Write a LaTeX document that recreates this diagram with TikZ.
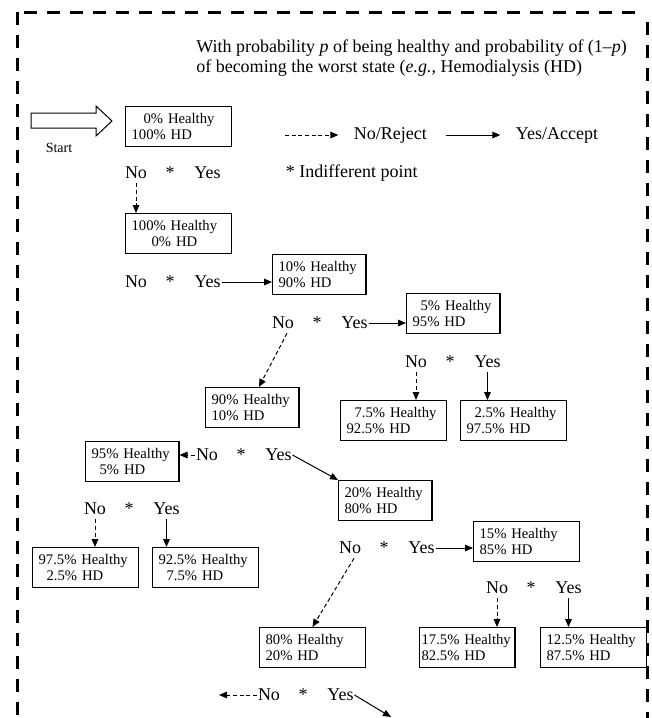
\documentclass[tikz,border=0pt]{standalone}
\usepackage{fontspec}
\setmainfont{Liberation Serif}
\usetikzlibrary{arrows.meta, positioning}
\newcommand{\rowfont}{\fontsize{13.5}{15}\selectfont}
\newcommand{\boxfont}{\fontsize{11}{12}\selectfont}
\tikzset{
  statebox/.style={rectangle, draw, line width=0.9pt, anchor=north west, align=left,
                   inner xsep=4.5pt, inner ysep=0pt, minimum height=30pt, font=\boxfont},
  wbox/.style={statebox, text width=70.3pt},
  nbox/.style={statebox, text width=61pt},
  ans/.style={inner xsep=0.5pt, inner ysep=3pt, font=\rowfont},
  yesarrow/.style={-{Triangle[length=6pt, width=5pt]}, line width=0.75pt},
  noarrow/.style={-{Triangle[length=6pt, width=5pt]}, line width=0.75pt, dash pattern=on 3pt off 2pt},
  frame/.style={line width=2.25pt, dash pattern=on 9.75pt off 7.5pt},
}
\begin{document}
\begin{tikzpicture}[x=0.75pt, y=-0.75pt]
  \useasboundingbox (0,0) rectangle (652,718);

  % dashed frame, open at the bottom
  \draw[frame] (17,12) -- (17,718);
  \draw[frame] (24,12) -- (641,12);
  \draw[frame] (647,22) -- (647,718);

  \node[font=\rowfont, align=left, anchor=north west, inner sep=0pt] (head) at (196,40)
    {With probability \textit{p} of being healthy and probability of (1–\textit{p})\\
     of becoming the worst state (\textit{e.g.}, Hemodialysis (HD)};

  % start arrow
  \draw[line width=0.75pt] (31,113) -- (96,113) -- (96,106) -- (112,121) -- (96,136)
    -- (96,128) -- (31,128) -- cycle;
  \node[font=\fontsize{10.5}{12}\selectfont] (start) at (59,148) {Start};

  % legend
  \coordinate (lgno) at (285,135);
  \node[ans, anchor=west] (legno) at (353,135) {No/Reject};
  \coordinate (lgyes) at (446,135);
  \node[ans, anchor=west] (legyes) at (515,135) {Yes/Accept};
  \draw[noarrow, shorten >=11pt] (lgno) -- (legno);
  \draw[yesarrow, shorten >=11pt] (lgyes) -- (legyes);
  \node[ans, anchor=west] (indiff) at (285,173) {* Indifferent point};

  % states
  \node[wbox] (b1) at (125,106) {\hspace*{9pt}0\% Healthy\\100\% HD};
  \node[wbox] (b2) at (125,213) {100\% Healthy\\\hspace*{15pt}0\% HD};
  \node[nbox] (b3) at (272,254) {10\% Healthy\\90\% HD};
  \node[nbox] (b4) at (406,293) {\hspace*{6pt}5\% Healthy\\95\% HD};
  \node[nbox] (b5) at (205,387) {90\% Healthy\\10\% HD};
  \node[wbox] (b6) at (340,400) {\hspace*{6pt}7.5\% Healthy\\92.5\% HD};
  \node[wbox] (b7) at (460,400) {\hspace*{6pt}2.5\% Healthy\\97.5\% HD};
  \node[nbox] (b8) at (85,441) {95\% Healthy\\\hspace*{6pt}5\% HD};
  \node[nbox] (b9) at (338,480) {20\% Healthy\\80\% HD};
  \node[wbox] (b10) at (32,547) {97.5\% Healthy\\\hspace*{6pt}2.5\% HD};
  \node[wbox] (b11) at (152,547) {92.5\% Healthy\\\hspace*{6pt}7.5\% HD};
  \node[wbox] (b12) at (473,521) {15\% Healthy\\85\% HD};
  \node[wbox] (b13) at (259,627) {80\% Healthy\\20\% HD};
  \node[statebox, text width=68.5pt, inner xsep=1.5pt] (b14) at (419,627) {17.5\% Healthy\\82.5\% HD};
  \node[wbox] (b15) at (540,627) {12.5\% Healthy\\87.5\% HD};

  % answers
  \node[ans] (no1) at (136,173) {No};
  \node[ans, base right=12.5pt of no1] (st1) {*};
  \node[ans, base right=13.5pt of st1] (yes1) {Yes};

  \node[ans] (no2) at (136,282) {No};
  \node[ans, base right=12.5pt of no2] (st2) {*};
  \node[ans, base right=13.5pt of st2] (yes2) {Yes};

  \node[ans] (no3) at (283,323) {No};
  \node[ans, base right=12.5pt of no3] (st3) {*};
  \node[ans, base right=13.5pt of st3] (yes3) {Yes};

  \node[ans] (no4) at (416,362) {No};
  \node[ans, base right=12.5pt of no4] (st4) {*};
  \node[ans, base right=13.5pt of st4] (yes4) {Yes};

  \node[ans] (no5) at (207,455) {No};
  \node[ans, base right=12.5pt of no5] (st5) {*};
  \node[ans, base right=13.5pt of st5] (yes5) {Yes};

  \node[ans] (no6) at (95,509) {No};
  \node[ans, base right=12.5pt of no6] (st6) {*};
  \node[ans, base right=13.5pt of st6] (yes6) {Yes};

  \node[ans] (no7) at (350,548) {No};
  \node[ans, base right=12.5pt of no7] (st7) {*};
  \node[ans, base right=13.5pt of st7] (yes7) {Yes};

  \node[ans] (no8) at (497,588) {No};
  \node[ans, base right=12.5pt of no8] (st8) {*};
  \node[ans, base right=13.5pt of st8] (yes8) {Yes};

  \node[ans] (no9) at (269,695) {No};
  \node[ans, base right=12.5pt of no9] (st9) {*};
  \node[ans, base right=13.5pt of st9] (yes9) {Yes};

  \coordinate (nofree) at (219,695);
  \coordinate (yesfree) at (391,717);

  % connectors
  \draw[noarrow] (no1) -- (no1 |- b2.north);
  \draw[yesarrow] (yes2) -- (yes2 -| b3.west);
  \draw[yesarrow] (yes3) -- (yes3 -| b4.west);
  \draw[noarrow] ([xshift=3pt]no3.south) -- ([xshift=5pt]b5.north);
  \draw[noarrow] (no4) -- (no4 |- b6.north);
  \draw[yesarrow] (yes4) -- (yes4 |- b7.north);
  \draw[noarrow] (no5) -- (no5 -| b8.east);
  \draw[yesarrow] (yes5.east) -- (b9.north west);
  \draw[noarrow] (no6) -- (no6 |- b10.north);
  \draw[yesarrow] (yes6) -- (yes6 |- b11.north);
  \draw[yesarrow] (yes7) -- (yes7 -| b12.west);
  \draw[noarrow] ([xshift=3pt]no7.south) -- (b13.north);
  \draw[noarrow] (no8) -- (no8 |- b14.north);
  \draw[yesarrow] (yes8) -- (yes8 |- b15.north);
  \draw[noarrow] (no9) -- (nofree);
  \draw[yesarrow] (yes9.east) -- (yesfree);
\end{tikzpicture}
\end{document}
